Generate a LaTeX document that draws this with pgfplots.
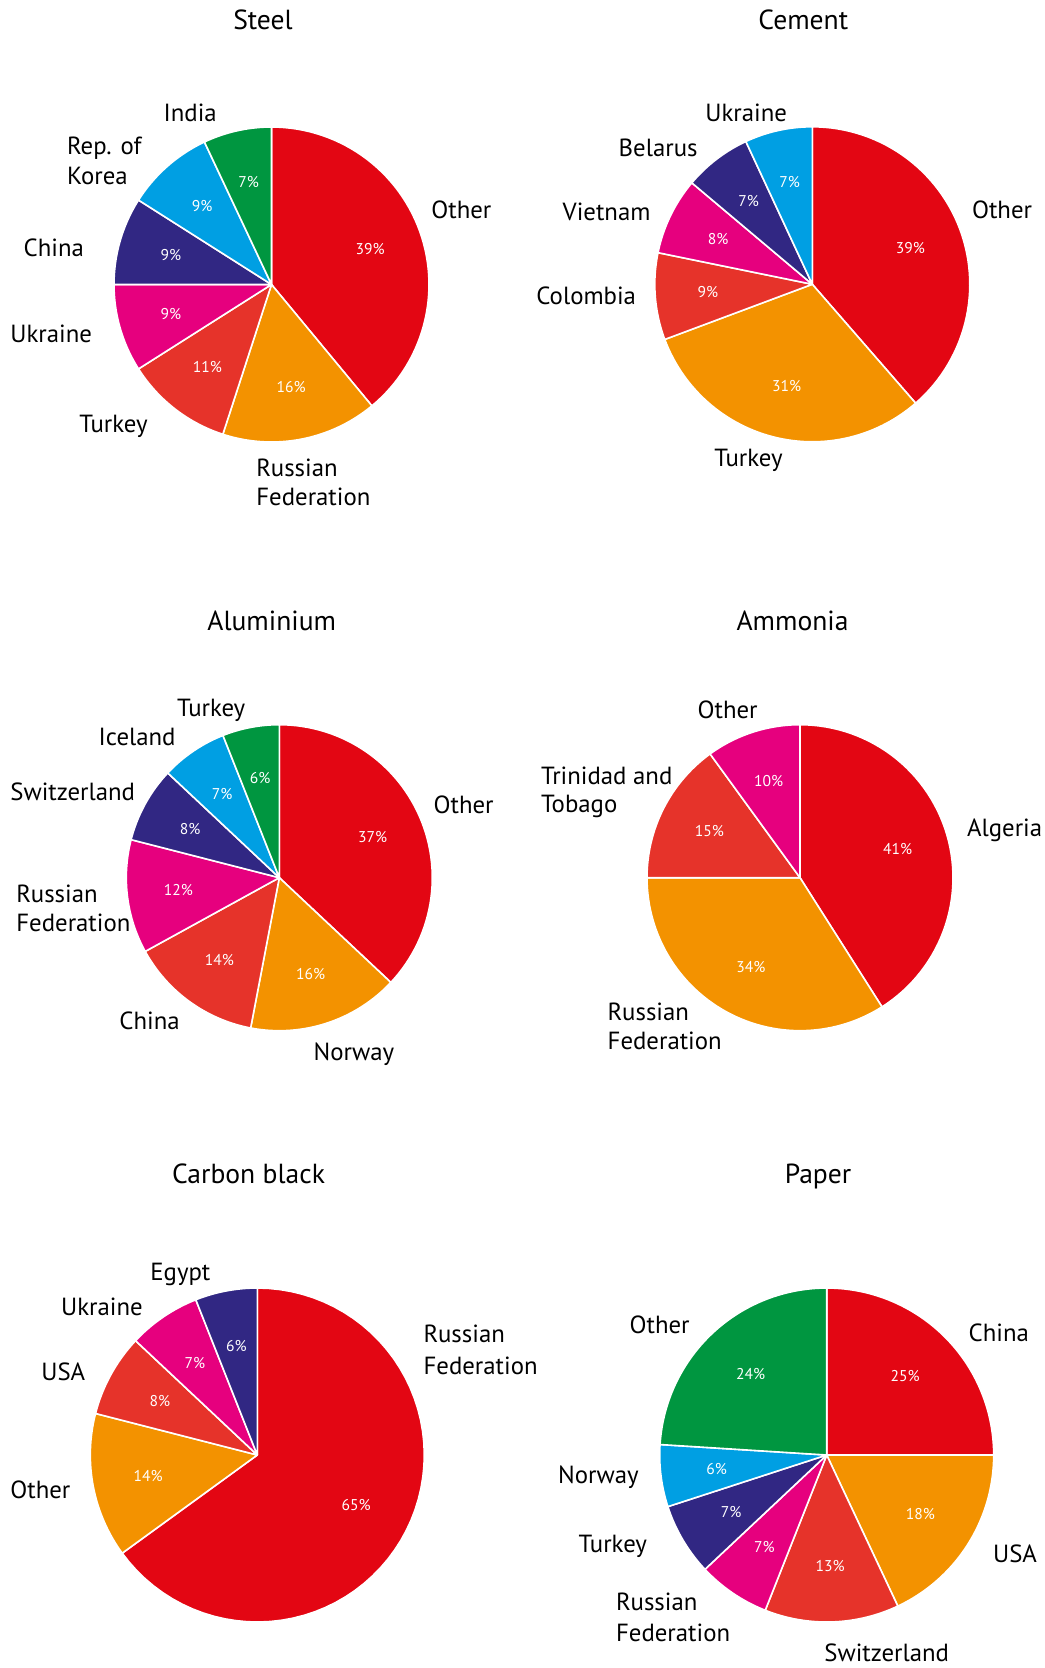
\documentclass[border=0pt]{standalone}
\usepackage{fontspec}
\setmainfont{PT Sans}
\usepackage{pgfplots}
\pgfplotsset{compat=1.18}

\definecolor{cRed}{HTML}{E30613}
\definecolor{cOrange}{HTML}{F39200}
\definecolor{cRedB}{HTML}{E6332A}
\definecolor{cMagenta}{HTML}{E6007E}
\definecolor{cNavy}{HTML}{312783}
\definecolor{cCyan}{HTML}{009FE3}
\definecolor{cGreen}{HTML}{009640}

\tikzset{
  pct/.style={text=white, inner sep=0pt, font=\fontsize{7.8}{9}\selectfont},
  lab/.style={anchor=base west, inner sep=0pt, font=\fontsize{12.4}{14}\selectfont},
  ttl/.style={anchor=base, inner sep=0pt, font=\fontsize{13.8}{16}\selectfont},
}

% layout unit: 1 unit = 0.5pt, y measured downwards from the top edge
\newcommand\setpie[4]{\def\cx{#1}\def\cy{#2}\def\R{#3}\def\tot{#4}\gdef\cum{0}}

\pgfplotsset{
  pie/.style={hide axis, scale only axis, clip=false,
    xmin=-1, xmax=1, ymin=-1, ymax=1,
    width=\R pt, height=\R pt, anchor=center,
    at={(\cx*0.5pt,-\cy*0.5pt)}},
}

% one wedge, clockwise from twelve o'clock: #1 share, #2 colour
\newcommand\pieslice[2]{%
  \pgfmathsetmacro\aA{\cum/\tot*360}%
  \pgfmathsetmacro\aB{(\cum+#1)/\tot*360}%
  \pgfmathsetmacro\aM{(\aA+\aB)/2}%
  \pgfmathsetmacro\pctx{0.665*sin(\aM)}%
  \pgfmathsetmacro\pcty{0.665*cos(\aM)}%
  \edef\doslice{%
    \noexpand\addplot[fill=#2, draw=white, line width=0.8pt, line join=round,
      mark=none, domain=\aA:\aB, samples=61]
      ({sin(x)},{cos(x)}) -- (axis cs:0,0) -- cycle;
    \noexpand\node[pct] at (axis cs:\pctx,\pcty) {#1\noexpand\%};}%
  \doslice
  \pgfmathsetmacro\cumnew{\cum+#1}\xdef\cum{\cumnew}}

% label with its left edge and baseline given in layout units
\newcommand\pielabel[3]{%
  \pgfmathsetmacro\lx{(#1-\cx)/\R}\pgfmathsetmacro\ly{(\cy-#2)/\R}%
  \edef\dolab{\noexpand\node[lab] at (axis cs:\lx,\ly) {\unexpanded{#3}};}\dolab}

\newcommand\pietitle[3]{%
  \pgfmathsetmacro\lx{(#1-\cx)/\R}\pgfmathsetmacro\ly{(\cy-#2)/\R}%
  \edef\dolab{\noexpand\node[ttl] at (axis cs:\lx,\ly) {\unexpanded{#3}};}\dolab}

\begin{document}
\begin{tikzpicture}
\useasboundingbox (0,0) rectangle (522pt,-834pt);

% ---------------- Steel
\setpie{271.5}{284.5}{157.5}{100}
\begin{axis}[pie]
  \pieslice{39}{cRed}
  \pieslice{16}{cOrange}
  \pieslice{11}{cRedB}
  \pieslice{9}{cMagenta}
  \pieslice{9}{cNavy}
  \pieslice{9}{cCyan}
  \pieslice{7}{cGreen}
  \pietitle{263}{30}{Steel}
  \pielabel{431}{218.3}{Other}
  \pielabel{256}{476.7}{Russian}
  \pielabel{256}{506}{Federation}
  \pielabel{79}{432.7}{Turkey}
  \pielabel{10}{342.7}{Ukraine}
  \pielabel{23.3}{256.7}{China}
  \pielabel{66.7}{155}{Rep. of}
  \pielabel{66.7}{185}{Korea}
  \pielabel{163.3}{121.7}{India}
\end{axis}

% ---------------- Cement
\setpie{812.3}{284.3}{157.5}{101}
\begin{axis}[pie]
  \pieslice{39}{cRed}
  \pieslice{31}{cOrange}
  \pieslice{9}{cRedB}
  \pieslice{8}{cMagenta}
  \pieslice{7}{cNavy}
  \pieslice{7}{cCyan}
  \pietitle{803.3}{30}{Cement}
  \pielabel{971.7}{218.3}{Other}
  \pielabel{714}{466.7}{Turkey}
  \pielabel{536}{304.3}{Colombia}
  \pielabel{562.3}{220.7}{Vietnam}
  \pielabel{618.3}{156.7}{Belarus}
  \pielabel{705}{121.7}{Ukraine}
\end{axis}

% ---------------- Aluminium
\setpie{279.3}{877.7}{153}{100}
\begin{axis}[pie]
  \pieslice{37}{cRed}
  \pieslice{16}{cOrange}
  \pieslice{14}{cRedB}
  \pieslice{12}{cMagenta}
  \pieslice{8}{cNavy}
  \pieslice{7}{cCyan}
  \pieslice{6}{cGreen}
  \pietitle{271.7}{630}{Aluminium}
  \pielabel{433.3}{813.3}{Other}
  \pielabel{313.3}{1060.7}{Norway}
  \pielabel{119}{1029}{China}
  \pielabel{16}{902.3}{Russian}
  \pielabel{16}{931}{Federation}
  \pielabel{10}{800.7}{Switzerland}
  \pielabel{98.3}{745.7}{Iceland}
  \pielabel{176.7}{716}{Turkey}
\end{axis}

% ---------------- Ammonia
\setpie{800}{877.7}{153}{100}
\begin{axis}[pie]
  \pieslice{41}{cRed}
  \pieslice{34}{cOrange}
  \pieslice{15}{cRedB}
  \pieslice{10}{cMagenta}
  \pietitle{792.5}{630}{Ammonia}
  \pielabel{966.7}{836}{Algeria}
  \pielabel{607.3}{1020}{Russian}
  \pielabel{607.3}{1049}{Federation}
  \pielabel{540.7}{784}{Trinidad and}
  \pielabel{540.7}{812.7}{Tobago}
  \pielabel{697.3}{718.3}{Other}
\end{axis}

% ---------------- Carbon black
\setpie{257.3}{1455}{167}{100}
\begin{axis}[pie]
  \pieslice{65}{cRed}
  \pieslice{14}{cOrange}
  \pieslice{8}{cRedB}
  \pieslice{7}{cMagenta}
  \pieslice{6}{cNavy}
  \pietitle{248.6}{1183.3}{Carbon black}
  \pielabel{423.2}{1342.3}{Russian}
  \pielabel{423.2}{1374}{Federation}
  \pielabel{10}{1498.3}{Other}
  \pielabel{41}{1380}{USA}
  \pielabel{60.7}{1315}{Ukraine}
  \pielabel{150}{1280.7}{Egypt}
\end{axis}

% ---------------- Paper
\setpie{826.7}{1455}{167}{100}
\begin{axis}[pie]
  \pieslice{25}{cRed}
  \pieslice{18}{cOrange}
  \pieslice{13}{cRedB}
  \pieslice{7}{cMagenta}
  \pieslice{7}{cNavy}
  \pieslice{6}{cCyan}
  \pieslice{24}{cGreen}
  \pietitle{818}{1183.3}{Paper}
  \pielabel{968.3}{1341.7}{China}
  \pielabel{992.7}{1562.3}{USA}
  \pielabel{824}{1661.7}{Switzerland}
  \pielabel{615.7}{1610}{Russian}
  \pielabel{615.7}{1641}{Federation}
  \pielabel{578.3}{1552.3}{Turkey}
  \pielabel{557.7}{1483.3}{Norway}
  \pielabel{629.3}{1333.3}{Other}
\end{axis}
\end{tikzpicture}
\end{document}
